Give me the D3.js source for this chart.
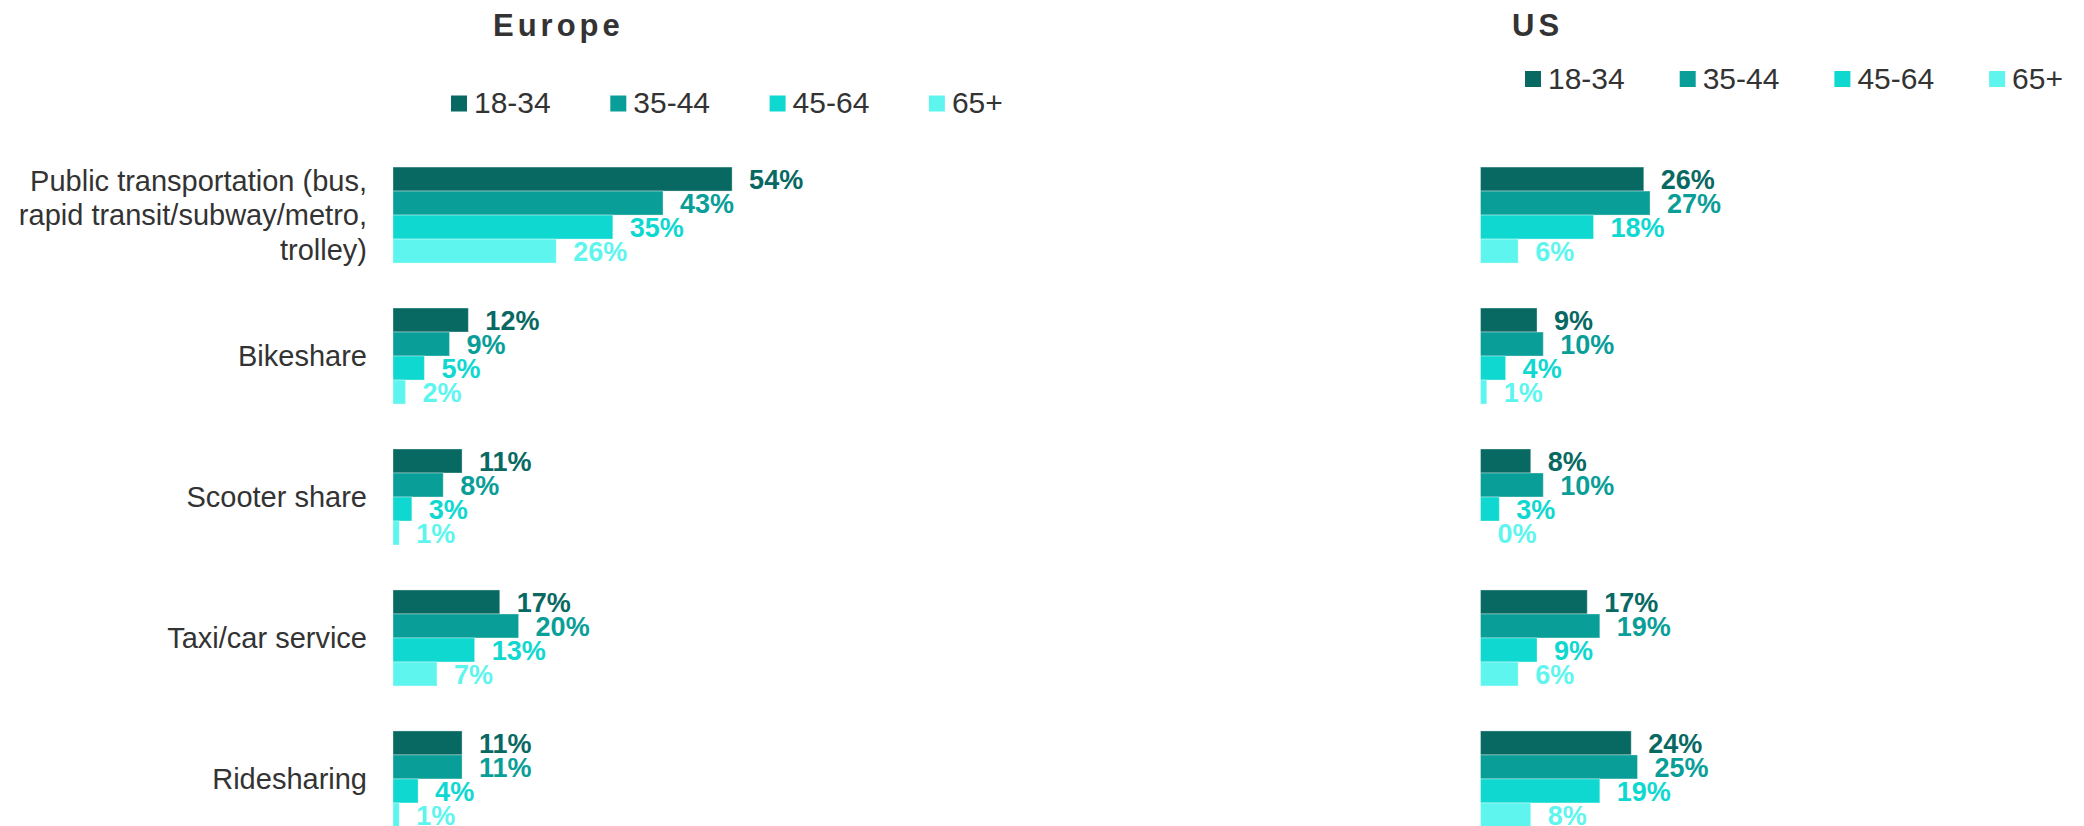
<!DOCTYPE html>
<html>
<head>
<meta charset="utf-8">
<script src="https://cdn.jsdelivr.net/npm/d3@7"></script>
<style>
  html, body { margin: 0; padding: 0; background: #ffffff; }
  svg { display: block; }
  text { font-family: "Liberation Sans", Arial, sans-serif; }
</style>
</head>
<body>
<svg id="chart" width="2084" height="826"></svg>
<script>
// ---- data ----
const categories = ["Public transportation", "Bikeshare", "Scooter share", "Taxi/car service", "Ridesharing"];
const categoryLabels = [
  ["Public transportation (bus,", "rapid transit/subway/metro,", "trolley)"],
  ["Bikeshare"],
  ["Scooter share"],
  ["Taxi/car service"],
  ["Ridesharing"]
];
const ageGroups = ["18-34", "35-44", "45-64", "65+"];
const colors = ["#086963", "#0A9E98", "#0ED8D0", "#5FF5EF"];
const regions = ["Europe", "US"];
// values per category, in ageGroups order
const europe18_34 = [54, 12, 11, 17, 11];
const europe35_44 = [43, 9, 8, 20, 11];
const europe45_64 = [35, 5, 3, 13, 4];
const europe65 = [26, 2, 1, 7, 1];
const us18_34 = [26, 9, 8, 17, 24];
const us35_44 = [27, 10, 10, 19, 25];
const us45_64 = [18, 4, 3, 9, 19];
const us65 = [6, 1, 0, 6, 8];

const seriesByRegion = {
  Europe: [europe18_34, europe35_44, europe45_64, europe65],
  US: [us18_34, us35_44, us45_64, us65]
};

// ---- layout ----
const svg = d3.select("#chart");
const textColor = "#333333";
const pxPerPct = 6.28;

const panels = [
  { name: "Europe", x0: 393, titleX: 493, legendX: 451, legendStep: 159.3, legendY: 95.5 },
  { name: "US", x0: 1480.5, titleX: 1512, legendX: 1525, legendStep: 154.7, legendY: 71 }
];

const y = d3.scaleBand()
  .domain(categories)
  .range([144.5, 849.5])
  .paddingInner(0.319)
  .paddingOuter(0.16);

const yInner = d3.scaleBand()
  .domain(ageGroups)
  .range([0, y.bandwidth()])
  .padding(0);

const color = d3.scaleOrdinal().domain(ageGroups).range(colors);

// category labels (left of Europe)
const catG = svg.append("g");
categories.forEach((c, i) => {
  const lines = categoryLabels[i];
  const cy = y(c) + y.bandwidth() / 2;
  const lh = 34.6;
  const t = catG.append("text")
    .attr("x", 367)
    .attr("text-anchor", "end")
    .attr("font-size", 29)
    .attr("fill", textColor);
  lines.forEach((ln, j) => {
    t.append("tspan")
      .attr("x", 367)
      .attr("y", cy + (j - (lines.length - 1) / 2) * lh + 10.4)
      .text(ln);
  });
});

panels.forEach(p => {
  const x = d3.scaleLinear().domain([0, 100]).range([p.x0, p.x0 + 100 * pxPerPct]);
  const g = svg.append("g");

  // title
  g.append("text")
    .attr("x", p.titleX)
    .attr("y", 35.5)
    .attr("font-size", 31)
    .attr("font-weight", "bold")
    .attr("letter-spacing", 4)
    .attr("fill", textColor)
    .text(p.name);

  // legend
  const leg = g.append("g");
  ageGroups.forEach((a, i) => {
    const lx = p.legendX + i * p.legendStep;
    leg.append("rect")
      .attr("x", lx).attr("y", p.legendY)
      .attr("width", 16).attr("height", 16)
      .attr("fill", color(a));
    leg.append("text")
      .attr("x", lx + 23)
      .attr("y", p.legendY + 17.5)
      .attr("font-size", 30)
      .attr("fill", textColor)
      .text(a);
  });

  // bars
  const series = seriesByRegion[p.name];
  ageGroups.forEach((a, si) => {
    const vals = series[si];
    const data = categories.map((c, ci) => ({ c, v: vals[ci] }));
    g.append("g").selectAll("rect")
      .data(data)
      .join("rect")
      .attr("x", x(0))
      .attr("y", d => y(d.c) + yInner(a))
      .attr("width", d => x(d.v) - x(0))
      .attr("height", yInner.bandwidth())
      .attr("fill", color(a))
      .attr("stroke", "#ffffff")
      .attr("stroke-opacity", 0.35)
      .attr("stroke-width", 1);
    g.append("g").selectAll("text")
      .data(data)
      .join("text")
      .attr("x", d => x(d.v) + 17)
      .attr("y", d => y(d.c) + yInner(a) + yInner.bandwidth() / 2 + 9.6)
      .attr("font-size", 27)
      .attr("font-weight", "bold")
      .attr("fill", color(a))
      .text(d => d.v + "%");
  });
});
</script>
</body>
</html>
